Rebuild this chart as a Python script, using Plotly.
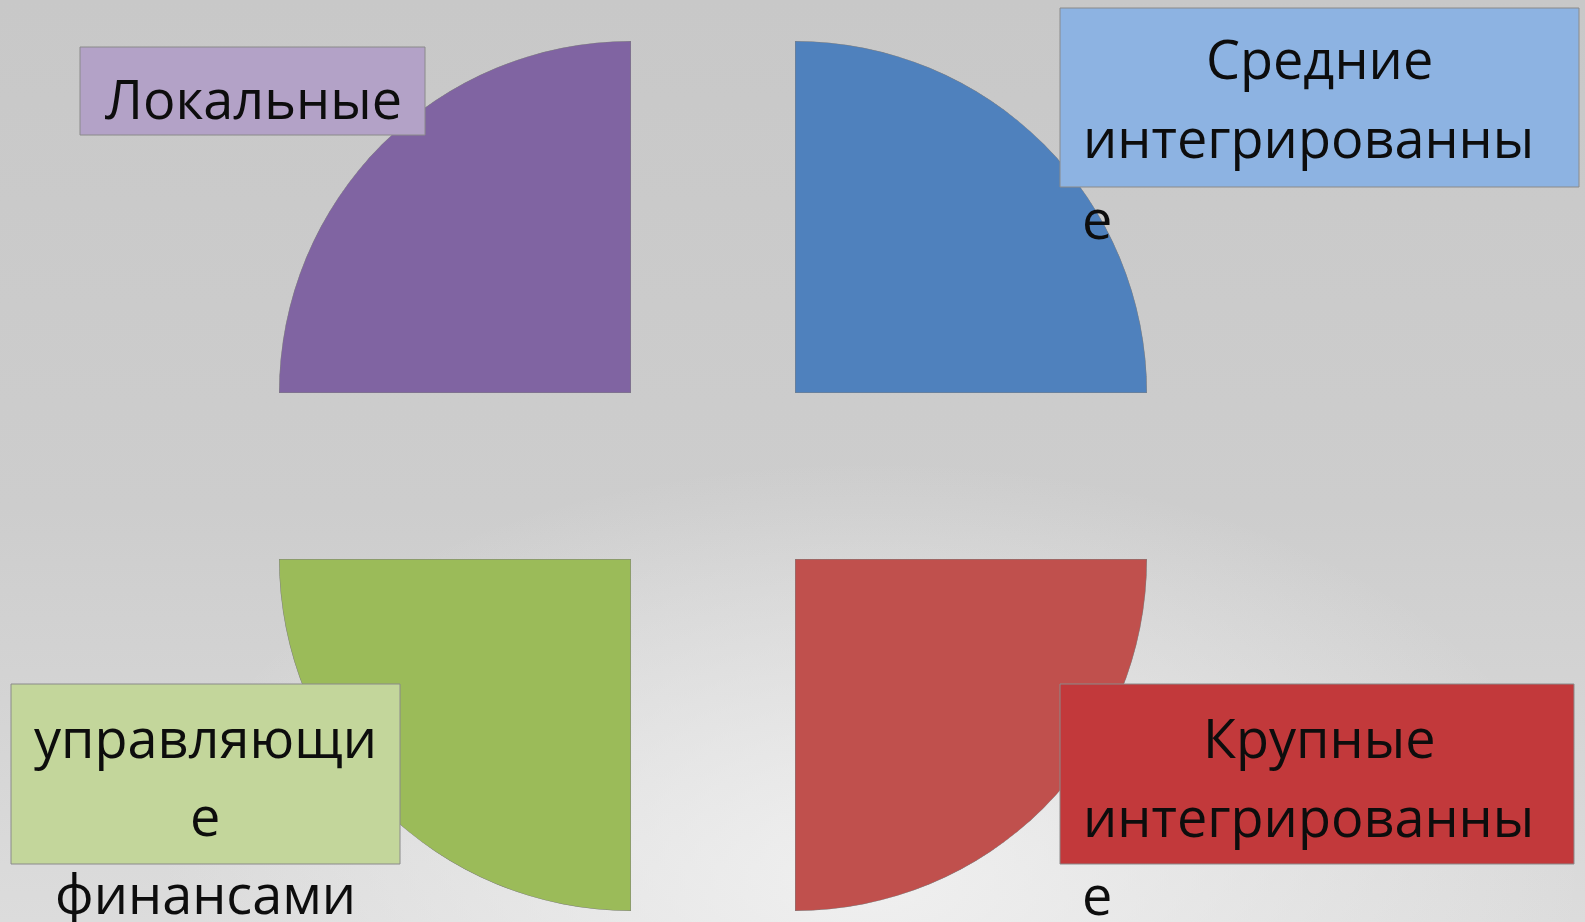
import base64
import plotly.graph_objects as go

W, H = 1585, 922

# ---- data ----
categories = ["Локальные", "Средние интегрированные", "управляющие финансами", "Крупные интегрированные"]
shares = [1, 1, 1, 1]                       # each quadrant = one equal quarter
sector_colors = ["#8064a2", "#4f81bd", "#9bbb59", "#c0504d"]
box_colors = ["#b3a2c7", "#8db3e2", "#c3d69b", "#c2393b"]
# wrapped label lines as shown in the picture
label_lines = [
    ["Локальные"],
    ["Средние", "интегрированны", "е"],
    ["управляющи", "е", "финансами"],
    ["Крупные", "интегрированны", "е"],
]

# ---- layout geometry (pixels) ----
R = 352
centers = [(631, 393), (795, 393), (631, 559), (795, 559)]
sectors = [[90, 180], [0, 90], [180, 270], [270, 360]]
boxes = [(80, 47, 425, 135), (1060, 8, 1579, 187), (11, 684, 400, 864), (1060, 684, 1574, 864)]
line_pos = [
    [(253, 98)],
    [(1319, 58), (1308, 137), (1097, 218)],
    [(205, 737), (205, 815), (205, 893)],
    [(1319, 737), (1308, 816), (1097, 894)],
]

def px(x):
    return x / W

def py(y):
    return 1 - y / H

fig = go.Figure()

for i, (cat, val) in enumerate(zip(categories, shares)):
    cx, cy = centers[i]
    s0, s1 = sectors[i]
    x0 = cx - R if s0 in (90, 180) else cx
    x1 = cx if s0 in (90, 180) else cx + R
    y0 = cy - R if s0 in (0, 90) else cy
    y1 = cy if s0 in (0, 90) else cy + R
    pname = "polar" if i == 0 else f"polar{i+1}"
    fig.add_trace(go.Barpolar(
        r=[val], theta=[(s0 + s1) / 2], width=[(s1 - s0) * val],
        marker=dict(color=sector_colors[i], line=dict(color="#7f7f7f", width=1)),
        name=cat, subplot=pname, hoverinfo="name", showlegend=False,
    ))
    fig.layout[pname] = dict(
        domain=dict(x=[px(x0), px(x1)], y=[py(y1), py(y0)]),
        sector=[s0, s1],
        bgcolor="rgba(0,0,0,0)",
        radialaxis=dict(range=[0, 1], visible=False, showgrid=False, showline=False),
        angularaxis=dict(visible=False, showgrid=False, showline=False, rotation=0, direction="counterclockwise"),
        hole=0,
    )

shapes = []
for i, (bx0, by0, bx1, by1) in enumerate(boxes):
    shapes.append(dict(type="rect", xref="paper", yref="paper",
                       x0=px(bx0), x1=px(bx1), y0=py(by1), y1=py(by0),
                       fillcolor=box_colors[i], line=dict(color="#8a8a8a", width=1),
                       layer="above"))

annotations = []
for i, lines in enumerate(label_lines):
    for txt, (tx, ty) in zip(lines, line_pos[i]):
        annotations.append(dict(text=txt, xref="paper", yref="paper",
                                x=px(tx), y=py(ty), xanchor="center", yanchor="middle",
                                showarrow=False,
                                font=dict(family="Open Sans", size=54, color="#0d0d0d")))

svg = f'''<svg xmlns="http://www.w3.org/2000/svg" width="{W}" height="{H}" viewBox="0 0 {W} {H}">
<defs>
<linearGradient id="g" x1="0" y1="0" x2="0" y2="1">
<stop offset="0" stop-color="#c8c8c8"/>
<stop offset="0.55" stop-color="#cdcdcd"/>
<stop offset="1" stop-color="#dcdcdc"/>
</linearGradient>
<radialGradient id="r" cx="0.55" cy="0.95" r="0.45">
<stop offset="0" stop-color="#f2f2f2" stop-opacity="0.9"/>
<stop offset="1" stop-color="#f2f2f2" stop-opacity="0"/>
</radialGradient>
</defs>
<rect width="{W}" height="{H}" fill="url(#g)"/>
<rect width="{W}" height="{H}" fill="url(#r)"/>
</svg>'''
bg_uri = "data:image/svg+xml;base64," + base64.b64encode(svg.encode()).decode()

fig.update_layout(
    width=W, height=H,
    margin=dict(l=0, r=0, t=0, b=0),
    paper_bgcolor="#cbcbcb",
    plot_bgcolor="rgba(0,0,0,0)",
    shapes=shapes,
    annotations=annotations,
    images=[dict(source=bg_uri, xref="paper", yref="paper", x=0, y=1, sizex=1, sizey=1,
                 xanchor="left", yanchor="top", sizing="stretch", layer="below")],
    showlegend=False,
    template="none",
)

fig.write_html("out.html", config={"displayModeBar": False},
               post_script="document.body.style.margin='0';document.body.style.overflow='hidden';")
